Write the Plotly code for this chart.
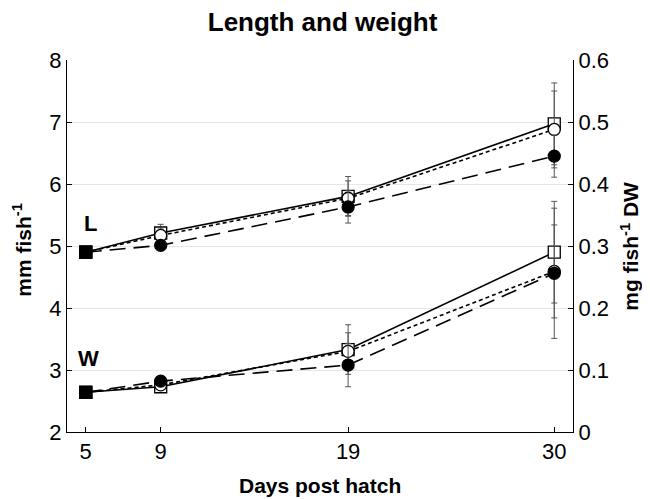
import plotly.graph_objects as go

days = [5, 9, 19, 30]

# Length (mm fish-1), left axis
L_sq = [4.9, 5.21, 5.80, 6.97]
L_sq_err = [0, 0.14, 0.32, 0.66]
L_oc = [4.9, 5.17, 5.77, 6.88]
L_oc_err = [0, 0.12, 0.28, 0.62]
L_fc = [4.9, 5.01, 5.63, 6.45]
L_fc_err = [0, 0.05, 0.26, 0.34]

# Weight (mg fish-1 DW), right axis
W_sq = [0.064, 0.073, 0.133, 0.290]
W_sq_err = [0, 0.006, 0.040, 0.082]
W_oc = [0.064, 0.076, 0.130, 0.259]
W_oc_err = [0, 0.005, 0.030, 0.075]
W_fc = [0.064, 0.082, 0.108, 0.256]
W_fc_err = [0, 0.005, 0.035, 0.105]

x_ticks = [5, 9, 19, 30]
yl_ticks = [2, 3, 4, 5, 6, 7, 8]
yr_ticks = [0, 0.1, 0.2, 0.3, 0.4, 0.5, 0.6]
yr_text = ["0", "0.1", "0.2", "0.3", "0.4", "0.5", "0.6"]

fig = go.Figure()

def add(y, err, dash, kind, axis):
    if kind == "sq":
        syms = ["square"] * 4
        cols = ["black", "white", "white", "white"]
    elif kind == "oc":
        syms = ["square", "circle", "circle", "circle"]
        cols = ["black", "white", "white", "white"]
    else:
        syms = ["square", "circle", "circle", "circle"]
        cols = ["black"] * 4
    fig.add_trace(go.Scatter(
        x=days, y=y, yaxis=axis, mode="lines+markers",
        line=dict(color="black", width=1.6, dash=dash),
        marker=dict(symbol=syms, color=cols, size=12,
                    line=dict(color="black", width=1.3)),
        error_y=dict(type="data", array=err, visible=True,
                     color="#555555", thickness=1, width=3),
        showlegend=False, cliponaxis=False,
    ))

add(L_sq, L_sq_err, "solid", "sq", "y")
add(L_oc, L_oc_err, "4px,3px", "oc", "y")
add(L_fc, L_fc_err, "16px,8px", "fc", "y")
add(W_sq, W_sq_err, "solid", "sq", "y2")
add(W_oc, W_oc_err, "4px,3px", "oc", "y2")
add(W_fc, W_fc_err, "16px,8px", "fc", "y2")

font = "Liberation Sans, Arial, sans-serif"

fig.add_annotation(x=5.27, y=5.37, xref="x", yref="y", text="<b>L</b>",
                   showarrow=False, font=dict(size=22, color="black", family=font))
fig.add_annotation(x=5.17, y=3.19, xref="x", yref="y", text="<b>W</b>",
                   showarrow=False, font=dict(size=22, color="black", family=font))

# axis titles as annotations for precise placement
fig.add_annotation(x=0.5, y=-0.143, xref="paper", yref="paper",
                   text="<b>Days post hatch</b>", showarrow=False,
                   font=dict(size=21, color="black", family=font),
                   xanchor="center", yanchor="middle")
fig.add_annotation(x=-0.089, y=0.49, xref="paper", yref="paper",
                   text="<b>mm fish<sup>-1</sup></b>", showarrow=False, textangle=-90,
                   font=dict(size=21, color="black", family=font),
                   xanchor="center", yanchor="middle")
fig.add_annotation(x=1.112, y=0.5, xref="paper", yref="paper",
                   text="<b>mg fish<sup>-1</sup> DW</b>", showarrow=False, textangle=-90,
                   font=dict(size=21, color="black", family=font),
                   xanchor="center", yanchor="middle")

axis_common = dict(zeroline=False, showline=True, linecolor="black", linewidth=1,
                   ticks="inside", ticklen=5, tickcolor="black",
                   tickfont=dict(size=22), automargin=False)

fig.update_layout(
    width=642, height=491,
    margin=dict(l=59, r=77, t=52, b=67),
    paper_bgcolor="white", plot_bgcolor="white",
    font=dict(family=font, color="black", size=21),
    title=dict(text="<b>Length and weight</b>", x=0.49, xanchor="center",
               y=0.972, yanchor="middle", font=dict(size=26, family=font)),
    xaxis=dict(range=[4, 31], tickvals=x_ticks, ticktext=[str(t) for t in x_ticks],
               showgrid=False, **axis_common),
    yaxis=dict(range=[2, 8], tickvals=yl_ticks, showgrid=True, gridcolor="#e6e6e6",
               **axis_common),
    yaxis2=dict(range=[0, 0.6], overlaying="y", side="right", tickvals=yr_ticks,
                ticktext=yr_text, showgrid=False, **axis_common),
)

fig.write_html("out.html")
